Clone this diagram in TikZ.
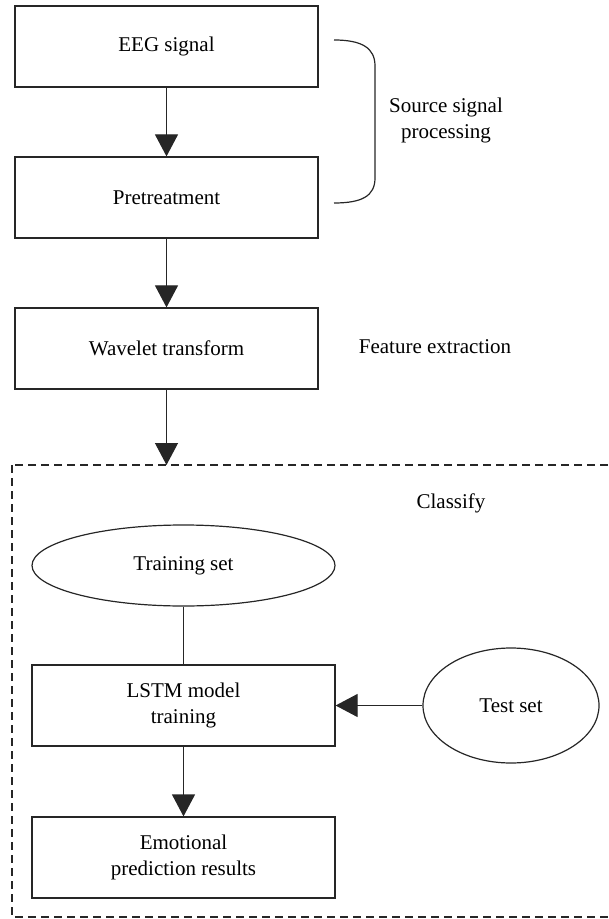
\documentclass[tikz,border=0pt]{standalone}
\usepackage{fontspec}
\setmainfont{Liberation Serif}
\usetikzlibrary{arrows.meta,shapes.geometric}
\definecolor{lGray}{gray}{0.15}
\tikzset{
    stepbox/.style={draw=lGray, line width=0.6pt, minimum width=151.5pt, minimum height=40.5pt, inner sep=0pt, align=center},
    oval/.style={ellipse, draw=lGray, line width=0.6pt, inner sep=0pt},
    lbl/.style={align=center, inner sep=0pt},
    flow/.style={line width=0.6pt, lGray, -{Triangle[width=11.5pt,length=11pt]}}
}

\begin{document}
\begin{tikzpicture}[x=0.5pt,y=-0.5pt,font=\fontsize{10.5}{13}\selectfont]
\useasboundingbox (0,0) rectangle (609,919);
\node[stepbox] (eeg)   at (166.5, 46.5) {EEG signal};
\node[stepbox] (pre)   at (166.5,197.5) {Pretreatment};
\node[stepbox] (wave)  at (166.5,348.5) {Wavelet transform};
\node[oval,minimum width=151.5pt,minimum height=40.5pt] (train) at (183.5,565.5) {Training set};
\node[stepbox] (lstm)  at (183.5,705.5) {LSTM model\\training};
\node[oval,minimum width=88pt,minimum height=57.5pt] (test) at (511,705.5) {Test set};
\node[stepbox] (emo)   at (183.5,857.5) {Emotional\\prediction results};
\node[lbl] (src)  at (446,120) {Source signal\\processing};
\node[lbl] (feat) at (435,347) {Feature extraction};
\node[lbl] (cls)  at (451,503) {Classify};
\coordinate (clsTop) at (166.5,465);
\draw[dash pattern=on 4.2pt off 2.3pt, line width=0.6pt, lGray] (12,465) rectangle (625,917);
\draw[line width=0.6pt, lGray] (334,40) .. controls (362,40) and (375,48) .. (375,66)
    -- (375,178) .. controls (375,196) and (362,203) .. (334,203);
\draw[flow] (eeg) -- (pre);
\draw[flow] (pre) -- (wave);
\draw[flow] (wave) -- (clsTop);
\draw[line width=0.6pt, lGray] (train) -- (lstm);
\draw[flow] (test) -- (lstm);
\draw[flow] (lstm) -- (emo);
\end{tikzpicture}
\end{document}
